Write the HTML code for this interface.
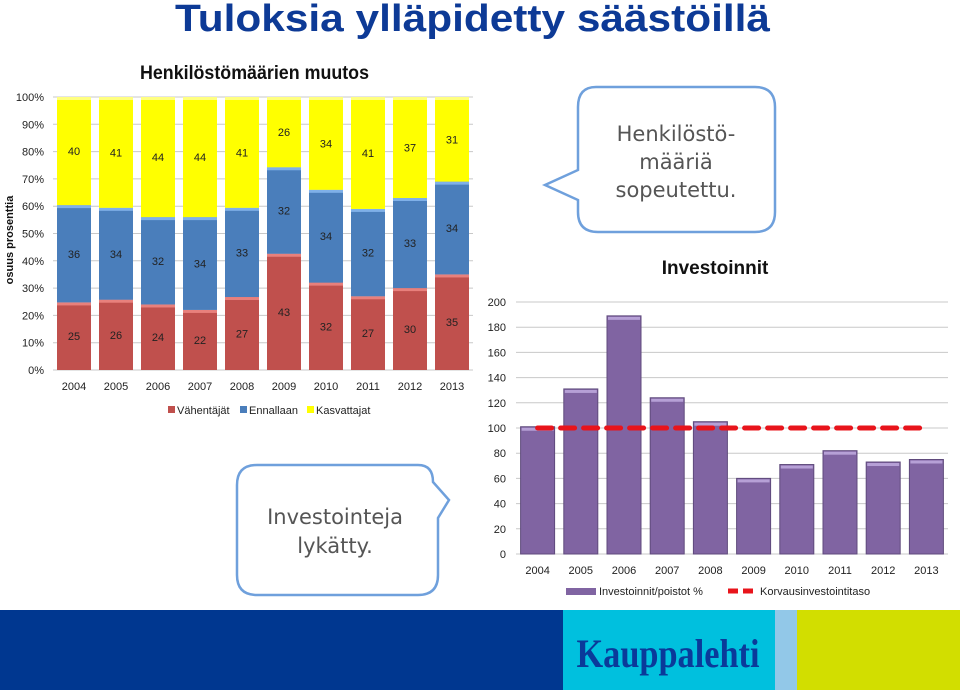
<!DOCTYPE html>
<html><head><meta charset="utf-8"><style>
body{margin:0;width:960px;height:690px;overflow:hidden;background:#fff;font-family:"Liberation Sans",sans-serif}
svg{display:block}
</style></head><body>
<svg id="s" width="960" height="690" xmlns="http://www.w3.org/2000/svg" font-family="Liberation Sans, sans-serif">
<text x="175" y="31" font-size="38" font-weight="bold" fill="#0d3a96" textLength="595" lengthAdjust="spacingAndGlyphs">Tuloksia ylläpidetty säästöillä</text>
<text x="140" y="79" font-size="19" font-weight="bold" fill="#111" textLength="229" lengthAdjust="spacingAndGlyphs">Henkilöstömäärien muutos</text>
<text transform="translate(13,240) rotate(-90)" text-anchor="middle" font-size="11" font-weight="bold" fill="#111">osuus prosenttia</text>
<g id="left"></g>
<g id="right"></g>
<g>
<path d="M596,87 H755 Q775,87 775,107 V212 Q775,232 755,232 H598 Q578,232 578,212 V200 L545,185 L578,170 V107 Q578,87 596,87 Z" fill="#fff" stroke="#6fa0dc" stroke-width="2.5"/>
<text x="676" y="141" text-anchor="middle" font-family="DejaVu Sans, sans-serif" font-size="21" fill="#555"><tspan x="676">Henkilöstö-</tspan><tspan x="676" dy="28">määriä</tspan><tspan x="676" dy="28">sopeutettu.</tspan></text>
</g>
<text x="715" y="274" text-anchor="middle" font-size="19" font-weight="bold" fill="#111">Investoinnit</text>
<g>
<path d="M257,465 H418 Q433,465 433,482 L449,500 L438,518 V575 Q438,595 418,595 H257 Q237,595 237,575 V485 Q237,465 257,465 Z" fill="#fff" stroke="#6fa0dc" stroke-width="2.5"/>
<text x="335" y="524" text-anchor="middle" font-family="DejaVu Sans, sans-serif" font-size="21" fill="#555"><tspan x="335">Investointeja</tspan><tspan x="335" dy="29">lykätty.</tspan></text>
</g>
<g>
<rect x="0" y="610" width="563" height="80" fill="#003790"/>
<rect x="563" y="610" width="212" height="80" fill="#00c0de"/>
<rect x="775" y="610" width="22" height="80" fill="#92c8e8"/>
<rect x="797" y="610" width="163" height="80" fill="#d2de00"/>
<text x="668" y="667" text-anchor="middle" font-family="Liberation Serif, serif" font-size="40" font-weight="bold" fill="#0a3a9a" textLength="183" lengthAdjust="spacingAndGlyphs">Kauppalehti</text>
</g>
</svg>
<script>
const NS="http://www.w3.org/2000/svg";
const years=["2004","2005","2006","2007","2008","2009","2010","2011","2012","2013"];
const decreasers=[25,26,24,22,27,43,32,27,30,35];
const unchanged=[36,34,32,34,33,32,34,32,33,34];
const increasers=[40,41,44,44,41,26,34,41,37,31];
const pctTicks=[0,10,20,30,40,50,60,70,80,90,100];
const invest=[101,131,189,124,105,60,71,82,73,75];
const replacementLevel=100;
const investTicks=[0,20,40,60,80,100,120,140,160,180,200];
function el(t,a,p){const e=document.createElementNS(NS,t);for(const k in a)e.setAttribute(k,a[k]);p.appendChild(e);return e;}
const L=document.getElementById('left');
const lx0=53,lx1=473,ly0=370,ly1=97;
const ly=v=>ly0-(ly0-ly1)*v/100;
const lcw=(lx1-lx0)/years.length;
pctTicks.forEach(t=>{
 const g=el('line',{x1:lx0,x2:lx1,y1:ly(t),y2:ly(t),stroke:'#c8c8c8','stroke-width':1},L);
 
 
 const tx=el('text',{x:lx0-9,y:ly(t)+4,'text-anchor':'end','font-size':11,fill:'#222'},L);tx.textContent=t+'%';
 
 
});
const series=[[decreasers,'#c0504d','#e8807c'],[unchanged,'#4a7ebb','#7fb0e8'],[increasers,'#ffff00','#ffff80']];
years.forEach((y,i)=>{
 const tot=decreasers[i]+unchanged[i]+increasers[i];
 let acc=0;const cx=lx0+lcw*(i+0.5);
 series.forEach((s,j)=>{
  const v=s[0][i]*100/tot;
  const top=ly(acc+v),bot=ly(acc);
  const r=el('rect',{x:cx-17,y:top,width:34,height:bot-top,fill:s[1]},L);
  
  
  el('rect',{x:cx-17,y:top,width:34,height:3,fill:s[2]},L);
  const t=el('text',{x:cx,y:(top+bot)/2+4,'text-anchor':'middle','font-size':11,fill:'#222'},L);t.textContent=s[0][i];
  
  
  acc+=v;
 });
 const t=el('text',{x:cx,y:390,'text-anchor':'middle','font-size':11,fill:'#222'},L);t.textContent=y;
 
 
});
[['#c0504d','Vähentäjät',168],['#4a7ebb','Ennallaan',240],['#ffff00','Kasvattajat',307]].forEach(([c,n,x])=>{
 const r=el('rect',{x:x,y:406,width:7,height:7,fill:c},L);
 
 
 const t=el('text',{x:x+9,y:414,'font-size':11,fill:'#222'},L);t.textContent=n;
 
 
});
const R=document.getElementById('right');
const rx0=516,rx1=948,ry0=554,ry1=302;
const ry=v=>ry0-(ry0-ry1)*v/200;
const rcw=(rx1-rx0)/years.length;
investTicks.forEach(t=>{
 const g=el('line',{x1:rx0,x2:rx1,y1:ry(t),y2:ry(t),stroke:'#c8c8c8','stroke-width':1},R);
 
 
 const tx=el('text',{x:rx0-10,y:ry(t)+4,'text-anchor':'end','font-size':11,fill:'#222'},R);tx.textContent=t;
 
 
});
years.forEach((y,i)=>{
 const cx=rx0+rcw*(i+0.5);
 const r=el('rect',{x:cx-17,y:ry(invest[i]),width:34,height:ry0-ry(invest[i]),fill:'#8064a2',stroke:'#5f4a7c','stroke-width':1},R);
 
 
 el('rect',{x:cx-16,y:ry(invest[i])+1,width:32,height:3,fill:'#b6a0d6'},R);
 const t=el('text',{x:cx,y:574,'text-anchor':'middle','font-size':11,fill:'#222'},R);t.textContent=y;
 
 
});
const ln=el('line',{x1:rx0+rcw*0.5,x2:rx0+rcw*9.5,y1:ry(replacementLevel),y2:ry(replacementLevel),stroke:'#e8141b','stroke-width':5,'stroke-dasharray':'14 9','stroke-linecap':'round'},R);


const lr=el('rect',{x:566,y:588,width:30,height:7,fill:'#8064a2'},R);


const l1=el('text',{x:599,y:595,'font-size':11,fill:'#222'},R);l1.textContent='Investoinnit/poistot %';


el('line',{x1:728,x2:755,y1:591,y2:591,stroke:'#e8141b','stroke-width':5,'stroke-dasharray':'10 5'},R);
const l2=el('text',{x:760,y:595,'font-size':11,fill:'#222'},R);l2.textContent='Korvausinvestointitaso';


</script>
</body></html>
